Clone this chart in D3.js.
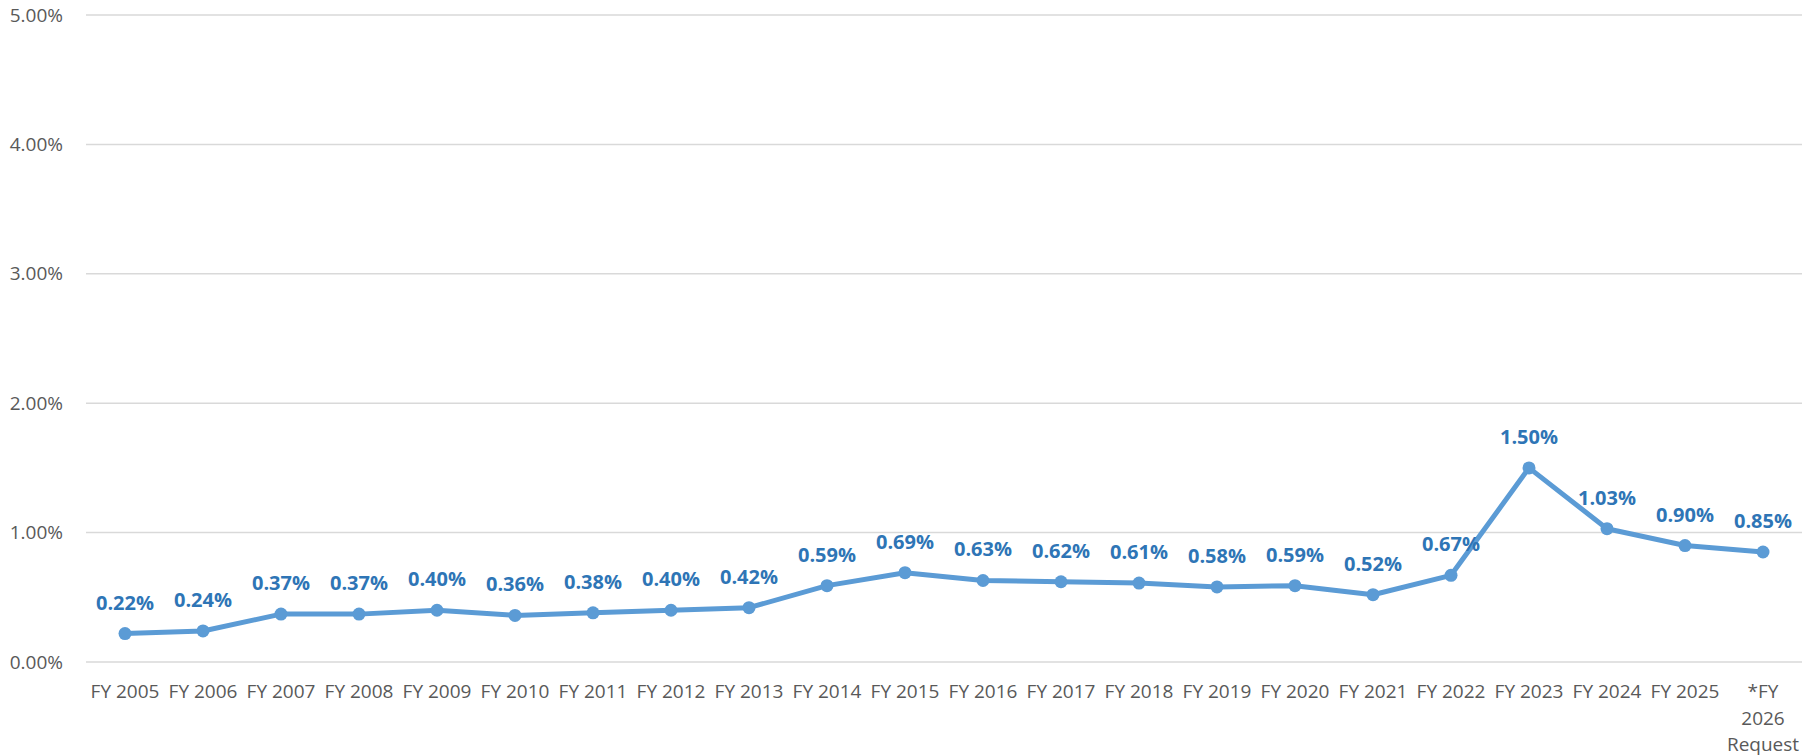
<!DOCTYPE html>
<html>
<head>
<meta charset="utf-8">
<script src="https://cdn.jsdelivr.net/npm/d3@7"></script>
<style>
  html, body { margin: 0; padding: 0; background: #ffffff; }
  svg { display: block; }
</style>
</head>
<body>
<svg id="chart" width="1816" height="756"></svg>
<script>
const categories = ["FY 2005","FY 2006","FY 2007","FY 2008","FY 2009","FY 2010","FY 2011","FY 2012","FY 2013","FY 2014","FY 2015","FY 2016","FY 2017","FY 2018","FY 2019","FY 2020","FY 2021","FY 2022","FY 2023","FY 2024","FY 2025","*FY 2026 Request"];
const values = [0.22,0.24,0.37,0.37,0.40,0.36,0.38,0.40,0.42,0.59,0.69,0.63,0.62,0.61,0.58,0.59,0.52,0.67,1.50,1.03,0.90,0.85];
const yTicks = [0,1,2,3,4,5];

(function () {
const svg = d3.select("#chart");
const plotLeft = 86, plotRight = 1802, plotTop = 15, plotBottom = 662;
const font = "'Open Sans', 'Liberation Sans', sans-serif";

const x = d3.scaleBand().domain(categories).range([plotLeft, plotRight]).paddingInner(0).paddingOuter(0);
const y = d3.scaleLinear().domain([0, 5]).range([plotBottom, plotTop]);

// gridlines
svg.append("g").selectAll("line").data(yTicks).join("line")
  .attr("x1", plotLeft).attr("x2", plotRight)
  .attr("y1", d => y(d)).attr("y2", d => y(d))
  .attr("stroke", "#d9d9d9").attr("stroke-width", 1.5);

// y axis labels
const yAxis = d3.axisLeft(y).tickValues(yTicks).tickSize(0).tickPadding(0)
  .tickFormat(d => d.toFixed(2) + "%");
const yg = svg.append("g").attr("transform", "translate(63,0)").call(yAxis);
yg.select(".domain").remove();
yg.selectAll("text").attr("font-family", font).attr("font-size", 19).attr("fill", "#595959");

// x axis labels
const xAxis = d3.axisBottom(x).tickSize(0).tickPadding(0);
const xg = svg.append("g").attr("transform", `translate(0,${plotBottom})`).call(xAxis);
xg.select(".domain").remove();
xg.selectAll("text").each(function (d) {
  const t = d3.select(this);
  t.text(null).attr("font-family", font).attr("font-size", 19).attr("fill", "#595959")
   .attr("dy", null).attr("y", 36);
  const lines = d.startsWith("*FY") ? ["*FY", "2026", "Request"] : [d];
  lines.forEach((ln, i) => {
    t.append("tspan").attr("x", 0).attr("dy", i === 0 ? 0 : 26.5).text(ln);
  });
});

const cx = d => x(d) + x.bandwidth() / 2;

// line
const line = d3.line().x((d, i) => cx(categories[i])).y(d => y(d));
svg.append("path").datum(values)
  .attr("d", line).attr("fill", "none")
  .attr("stroke", "#5B9BD5").attr("stroke-width", 5)
  .attr("stroke-linejoin", "round").attr("stroke-linecap", "round");

// markers
svg.append("g").selectAll("circle").data(values).join("circle")
  .attr("cx", (d, i) => cx(categories[i])).attr("cy", d => y(d))
  .attr("r", 6.5).attr("fill", "#5B9BD5");

// data labels
svg.append("g").selectAll("text").data(values).join("text")
  .attr("x", (d, i) => cx(categories[i])).attr("y", d => y(d) - 24)
  .attr("text-anchor", "middle")
  .attr("font-family", font).attr("font-size", 20).attr("font-weight", "bold")
  .attr("fill", "#2E75B6")
  .text(d => d.toFixed(2) + "%");
})();
</script>
</body>
</html>
